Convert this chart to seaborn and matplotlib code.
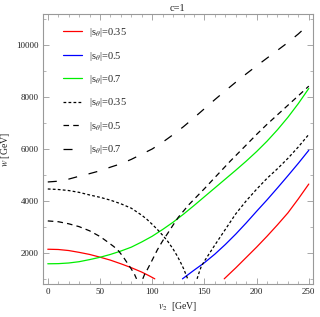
import matplotlib
matplotlib.use("Agg")
import matplotlib.pyplot as plt
import seaborn as sns
import numpy as np

# red, |s|=0.35 (two branches)
red_v1 = [0, 10, 20, 30, 40, 50, 60, 70, 80, 90, 97, 102.5]
red_w1 = [2140, 2130, 2090, 2020, 1940, 1835, 1720, 1580, 1430, 1260, 1120, 1000]
red_v2 = [169, 175, 180, 190, 200, 210, 220, 230, 240, 250]
red_w2 = [1000, 1230, 1420, 1820, 2220, 2640, 3080, 3540, 4080, 4650]

# blue, |s|=0.5
blue_v = [129, 135, 140, 150, 160, 170, 180, 190, 200, 210, 220, 230, 240, 250]
blue_w = [1000, 1180, 1330, 1620, 1950, 2320, 2720, 3150, 3600, 4040, 4500, 4970, 5450, 5950]

# green, |s|=0.7
green_v = [0, 10, 20, 30, 40, 50, 60, 70, 80, 90, 100, 110, 120, 130,
           140, 150, 160, 170, 180, 190, 200, 210, 220, 230, 240, 250]
green_w = [1580, 1585, 1610, 1660, 1740, 1830, 1940, 2070, 2220, 2420, 2640, 2900, 3180, 3490,
           3820, 4160, 4500, 4840, 5180, 5530, 5900, 6300, 6740, 7220, 7750, 8330]

# short dashed, |s|=0.35
sd_v1 = [0, 10, 20, 30, 40, 50, 60, 70, 80, 90, 95, 100, 105, 110, 115, 120, 124, 127, 130, 134]
sd_w1 = [4460, 4440, 4400, 4330, 4230, 4140, 4030, 3890, 3720, 3450, 3290, 3100, 2900, 2680,
         2440, 2150, 1880, 1650, 1400, 1000]
sd_v2 = [143, 145, 147, 150, 155, 160, 170, 180, 190, 200, 210, 220, 230, 240, 250]
sd_w2 = [1000, 1250, 1475, 1680, 1990, 2300, 2900, 3500, 4000, 4450, 4870, 5240, 5640, 6080, 6560]

# medium dashed, |s|=0.5
md_v1 = [0, 10, 20, 30, 40, 50, 57, 63, 67, 72, 76, 80, 83, 85]
md_w1 = [3230, 3200, 3120, 3010, 2850, 2630, 2430, 2250, 2115, 1860, 1620, 1380, 1180, 1000]
md_v2 = [91, 93, 95, 100, 105, 110, 115, 120, 125, 135, 150, 160, 175, 190, 200, 210, 225, 240, 250]
md_w2 = [1000, 1200, 1330, 1720, 2120, 2460, 2760, 3070, 3370, 3850, 4470, 4900, 5540, 6150,
         6560, 6950, 7500, 8050, 8420]

# long dashed, |s|=0.7
ld_v = [0, 10, 20, 30, 40, 50, 60, 70, 80, 90, 100, 110, 120, 130, 140, 150,
        160, 170, 180, 190, 200, 210, 220, 230, 240, 250]
ld_w = [4730, 4760, 4840, 4950, 5050, 5160, 5300, 5430, 5600, 5800, 6000, 6260, 6550, 6860,
        7200, 7550, 7900, 8240, 8570, 8890, 9200, 9500, 9800, 10100, 10430, 10800]

sns.set_theme(style="ticks")
plt.rcParams["font.family"] = ["Liberation Serif", "DejaVu Serif"]
plt.rcParams["mathtext.fontset"] = "stix"
plt.rcParams["lines.scale_dashes"] = False

fig = plt.figure(figsize=(3.2, 3.17), dpi=100)
ax = fig.add_axes([0.133, 0.104, 0.845, 0.852])

lw = 0.9
short = (0, (2.0, 1.6))
medium = (0, (4.0, 3.0))
long_ = (0, (6.5, 8.5))

sns.lineplot(x=red_v1, y=red_w1, ax=ax, color="red", lw=lw, sort=False, label="|s$_\\theta$|=0.35")
sns.lineplot(x=red_v2, y=red_w2, ax=ax, color="red", lw=lw, sort=False)
sns.lineplot(x=blue_v, y=blue_w, ax=ax, color="blue", lw=lw, sort=False, label="|s$_\\theta$|=0.5")
sns.lineplot(x=green_v, y=green_w, ax=ax, color="#00ee00", lw=lw, sort=False, label="|s$_\\theta$|=0.7")
sns.lineplot(x=sd_v1, y=sd_w1, ax=ax, color="black", lw=lw, sort=False, linestyle=short, label="|s$_\\theta$|=0.35")
sns.lineplot(x=sd_v2, y=sd_w2, ax=ax, color="black", lw=lw, sort=False, linestyle=short)
sns.lineplot(x=md_v1, y=md_w1, ax=ax, color="black", lw=lw, sort=False, linestyle=medium, label="|s$_\\theta$|=0.5")
sns.lineplot(x=md_v2, y=md_w2, ax=ax, color="black", lw=lw, sort=False, linestyle=medium)
sns.lineplot(x=ld_v, y=ld_w, ax=ax, color="black", lw=lw, sort=False, linestyle=long_, label="|s$_\\theta$|=0.7")

ax.set_xlim(-5, 254)
ax.set_ylim(800, 11200)
ax.set_xticks([0, 50, 100, 150, 200, 250])
ax.set_xticks(np.arange(0, 251, 10), minor=True)
ax.set_yticks([2000, 4000, 6000, 8000, 10000])
ax.set_yticks(np.arange(1000, 11001, 1000), minor=True)

frame = "#999999"
for s in ax.spines.values():
    s.set_color(frame)
    s.set_linewidth(0.8)
ax.tick_params(which="both", direction="in", top=True, right=True, color=frame,
               labelsize=6.5, labelcolor="#222222", pad=3)
ax.tick_params(which="major", length=4, width=0.6)
ax.tick_params(which="minor", length=2, width=0.5)

ax.set_xlabel("$v_2$  [GeV]", fontsize=7, labelpad=3, color="#222222")
ax.set_ylabel("$w$ [GeV]", fontsize=7, color="#222222")
ax.yaxis.set_label_coords(-0.113, 0.5)
ax.set_title("c=1", fontsize=7.5, pad=2, color="#222222")

ax.legend(loc="upper left", bbox_to_anchor=(0.075, 0.955), frameon=False,
          fontsize=7.5, handlelength=1.8, handletextpad=0.7,
          labelspacing=1.0, borderpad=0, borderaxespad=0)

fig.savefig("out.png", dpi=100)
